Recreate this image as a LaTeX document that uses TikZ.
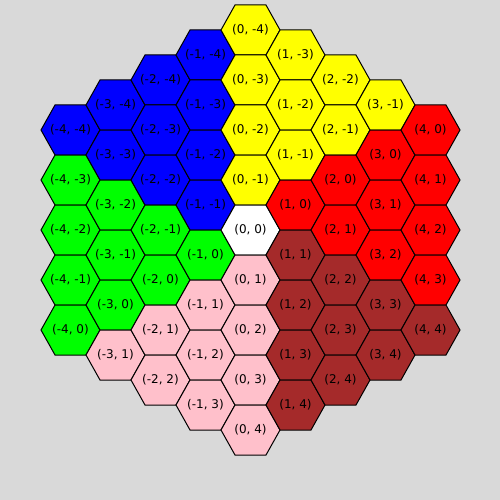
\documentclass[tikz,border=0pt]{standalone}
\usepackage{fontspec}
\setmainfont{DejaVu Sans}
\usetikzlibrary{calc}
\definecolor{BgCanvas}{HTML}{D9D9D9}
\definecolor{HexYellow}{HTML}{FFFF00}
\definecolor{HexRed}{HTML}{FF0000}
\definecolor{HexBrown}{HTML}{A52A2A}
\definecolor{HexPink}{HTML}{FFC0CB}
\definecolor{HexGreen}{HTML}{00FF00}
\definecolor{HexBlue}{HTML}{0000FF}
\tikzset{
    hexcell/.style={draw=black, line width=1pt, line join=miter},
    hexlabel/.style={inner sep=0pt, text=black, font=\fontsize{12}{14}\selectfont}
}

\begin{document}
\begin{tikzpicture}[x=1pt, y=-1pt]
    \fill[BgCanvas] (0,0) rectangle (500,500);
    \useasboundingbox (0,0) rectangle (500,500);
    % axial grid, radius 4
    \foreach \q in {-4,...,4} {
        \foreach \r in {-4,...,4} {
            \pgfmathtruncatemacro{\dist}{abs(\q-\r)}
            \ifnum\dist<5
                \pgfmathsetmacro{\cx}{250.5+45*\q}
                \pgfmathsetmacro{\cy}{230-25*\q+50*\r}
                \pgfmathtruncatemacro{\zone}{(\q==0 && \r==0) ? 0 : ((\q>=0 && \r<0) ? 1 : ((\r>=0 && \q>\r) ? 2 : ((\q>0 && \r>=\q) ? 3 : ((\q<=0 && \r>0) ? 4 : ((\r<=\q) ? 5 : 6)))))}
                \ifcase\zone \def\hexfill{white}\or \def\hexfill{HexYellow}\or \def\hexfill{HexRed}\or \def\hexfill{HexBrown}\or \def\hexfill{HexPink}\or \def\hexfill{HexBlue}\else \def\hexfill{HexGreen}\fi
                \draw[hexcell, fill=\hexfill] (\cx,\cy) +(-29.5,0) -- +(-15.5,-25) -- +(15.5,-25) -- +(29.5,0) -- +(15.5,25) -- +(-15.5,25) -- cycle;
                \node[hexlabel] (h\q\r) at (\cx,\cy) {(\q, \r)};
            \fi
        }
    }
\end{tikzpicture}
\end{document}
